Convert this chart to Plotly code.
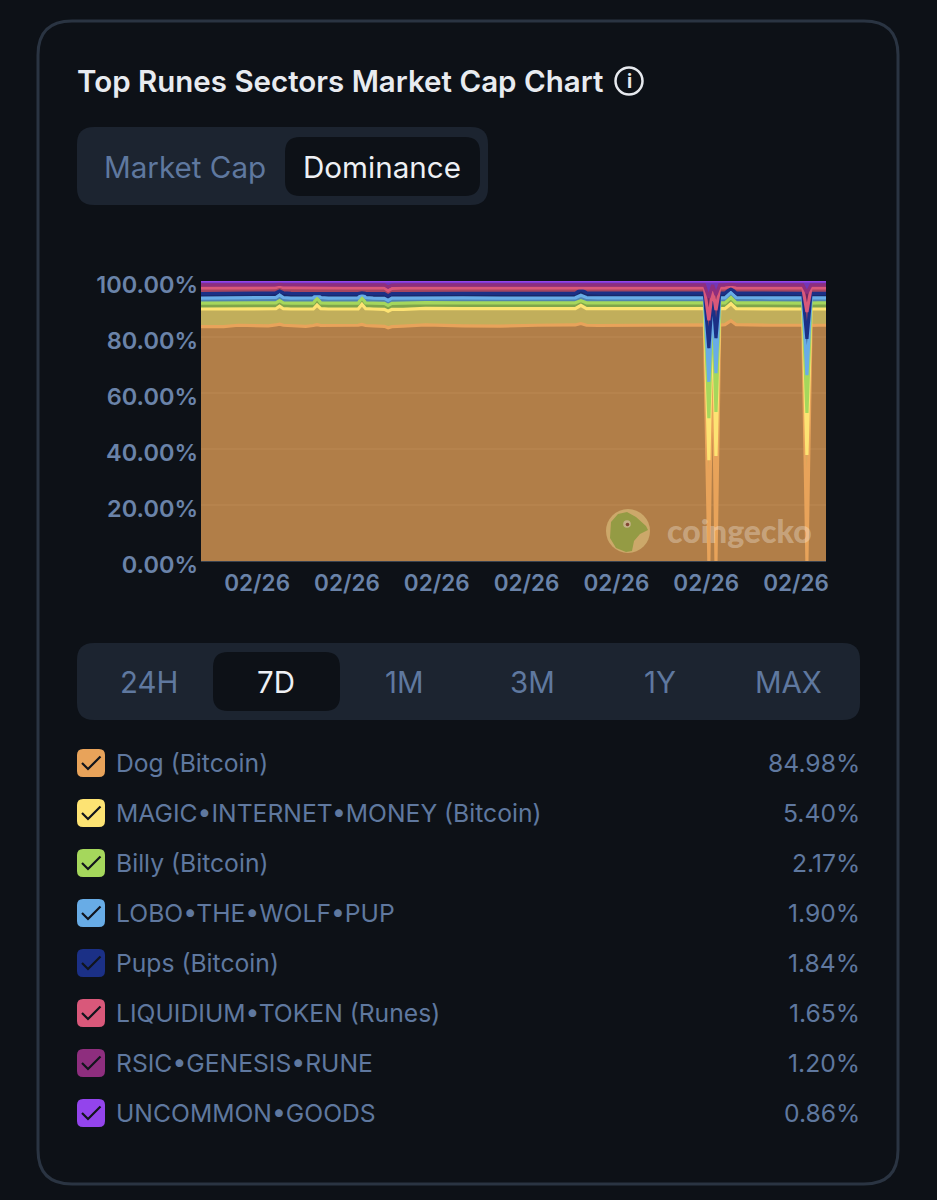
import plotly.graph_objects as go

W = 937
H = 1200
BG = "#0d1117"
PANEL = "#1c2430"
BORDER = "#2a3442"
MUTED = "#5f789f"
AXIS = "#6a83a9"
FONT = "Inter"

# hours since start of the 7D window
hours = [0, 3, 6, 10, 14, 18, 20, 21, 22, 24,
         28, 30, 31, 32, 34, 38, 42, 43, 44, 46,
         49, 50, 51, 54, 60, 70, 80, 90, 98, 100,
         101.5, 103, 106, 115, 125, 133, 134.5, 135.7, 136.7, 137.6,
         138.6, 140, 141.6, 143, 146, 152, 158, 160.8, 161.9, 163,
         165, 167]

dog = [83.7, 83.6, 83.7, 84.2, 84.2, 84.0, 84.3, 84.6, 84.2, 84.0,
       83.8, 84.1, 84.4, 84.1, 84.1, 84.0, 84.2, 84.5, 84.1, 84.0,
       83.8, 83.3, 83.7, 83.9, 84.3, 84.0, 83.9, 84.2, 84.2, 84.3,
       84.8, 84.2, 84.1, 84.2, 84.2, 84.3, 84.3, 0, 84.2, 0,
       84.2, 84.4, 85.8, 84.4, 84.3, 84.2, 84.2, 84.2, 0, 84.1,
       84.2, 84.2]
magic = [6.3, 6.4, 6.3, 5.8, 5.9, 6.0, 5.8, 6.4, 5.9, 6.0,
         6.2, 5.9, 7.0, 6.0, 5.9, 6.0, 5.8, 7.2, 6.0, 6.0,
         6.1, 5.9, 6.2, 6.0, 5.9, 6.1, 6.1, 5.8, 5.9, 5.8,
         6.5, 5.9, 6.0, 5.9, 5.9, 5.8, 5.8, 36, 5.8, 37.5,
         5.9, 5.7, 6.1, 5.7, 5.8, 5.9, 5.8, 5.8, 37.9, 5.9,
         5.8, 5.8]
billy = [2.1, 2.1, 2.1, 2.2, 2.1, 2.1, 2.1, 2.0, 2.1, 2.1,
         2.1, 2.1, 2.5, 2.1, 2.1, 2.1, 2.1, 2.4, 2.1, 2.1,
         2.1, 2.1, 2.1, 2.2, 2.1, 2.1, 2.1, 2.1, 2.1, 2.1,
         1.7, 2.1, 2.1, 2.0, 2.1, 2.1, 2.1, 15, 2.1, 15.7,
         2.1, 2.1, 2.2, 2.1, 2.1, 2.1, 2.1, 2.1, 15, 2.1,
         2.2, 2.2]
lobo = [1.8, 1.8, 1.8, 1.8, 1.8, 1.9, 1.9, 2.0, 1.9, 1.8,
        1.8, 1.9, 1.3, 1.9, 1.8, 1.8, 1.9, 1.3, 1.9, 1.8,
        1.8, 1.8, 1.9, 1.8, 1.7, 1.8, 1.8, 1.8, 1.8, 1.8,
        1.9, 1.9, 1.8, 1.9, 1.8, 1.8, 1.8, 13, 1.8, 13.9,
        1.8, 1.8, 1.9, 1.9, 1.8, 1.8, 1.9, 1.9, 13.5, 1.9,
        1.8, 1.8]
pups = [1.6, 1.6, 1.6, 1.5, 1.6, 1.7, 1.7, 1.4, 1.7, 1.7,
        1.6, 1.5, 0.5, 1.5, 1.6, 1.6, 1.5, 0.4, 1.5, 1.6,
        1.7, 1.6, 1.6, 1.6, 1.6, 1.6, 1.7, 1.7, 1.6, 1.6,
        2.0, 1.7, 1.7, 1.7, 1.7, 1.7, 1.7, 12, 1.7, 12.5,
        1.7, 1.7, 1.3, 1.6, 1.7, 1.6, 1.6, 1.6, 12.9, 1.6,
        1.6, 1.6]
liquidium = [2.0, 2.0, 2.0, 2.0, 1.9, 1.8, 1.8, 1.8, 1.8, 2.0,
             2.0, 2.0, 1.9, 1.9, 2.0, 2.0, 2.0, 1.8, 1.9, 2.0,
             2.0, 1.9, 1.9, 2.0, 1.9, 1.9, 1.9, 1.9, 1.9, 1.9,
             0.8, 1.8, 1.8, 1.8, 1.8, 1.8, 1.8, 10, 1.9, 10,
             1.8, 1.8, 1.0, 1.8, 1.8, 1.9, 1.9, 1.9, 9.6, 1.9,
             1.9, 1.9]
rsic = [1.1, 1.1, 1.1, 1.1, 1.1, 1.1, 1.0, 0.7, 1.0, 1.0,
        1.1, 1.1, 1.0, 1.1, 1.1, 1.1, 1.1, 1.0, 1.1, 1.1,
        1.1, 1.2, 1.1, 1.1, 1.1, 1.1, 1.1, 1.1, 1.1, 1.1,
        0.9, 1.0, 1.1, 1.1, 1.1, 1.1, 1.1, 8, 1.1, 5.4,
        1.1, 1.1, 0.6, 1.1, 1.1, 1.1, 1.1, 1.1, 6.8, 1.1,
        1.1, 1.1]
uncommon = [1.4, 1.4, 1.4, 1.4, 1.4, 1.4, 1.4, 1.1, 1.4, 1.4,
            1.4, 1.4, 1.4, 1.4, 1.4, 1.4, 1.4, 1.4, 1.4, 1.4,
            1.4, 2.1, 1.5, 1.4, 1.4, 1.4, 1.4, 1.4, 1.4, 1.4,
            1.4, 1.4, 1.4, 1.4, 1.4, 1.4, 1.4, 6, 1.4, 5,
            1.4, 1.4, 1.1, 1.4, 1.4, 1.4, 1.4, 1.4, 4.3, 1.4,
            1.4, 1.4]

names = ["Dog (Bitcoin)", "MAGIC•INTERNET•MONEY (Bitcoin)", "Billy (Bitcoin)", "LOBO•THE•WOLF•PUP",
         "Pups (Bitcoin)", "LIQUIDIUM•TOKEN (Runes)", "RSIC•GENESIS•RUNE", "UNCOMMON•GOODS"]
latest = ["84.98%", "5.40%", "2.17%", "1.90%", "1.84%", "1.65%", "1.20%", "0.86%"]
series = [dog, magic, billy, lobo, pups, liquidium, rsic, uncommon]
colors = [(232, 163, 90), (253, 227, 115), (165, 215, 92), (104, 172, 230),
          (27, 48, 134), (217, 88, 122), (142, 46, 126), (147, 68, 236)]

x_ticks = [15, 39, 63, 87, 111, 135, 159]
x_labels = ["02/26"] * 7
y_ticks = [0, 20, 40, 60, 80, 100]
y_labels = ["0.00%", "20.00%", "40.00%", "60.00%", "80.00%", "100.00%"]
range_tabs = ["24H", "7D", "1M", "3M", "1Y", "MAX"]
range_tab_x = [149, 276, 404, 532, 660, 788]


# everything outside the chart is placed in screen pixels
def px(x):
    return x / W


def py(y):
    return 1 - y / H


def rounded(x0, y0, x1, y1, r, fill, line=None, width=0):
    a, b, c, d = px(x0), py(y0), px(x1), py(y1)
    rx, ry = r / W, r / H
    path = (f"M{a + rx},{b} L{c - rx},{b} Q{c},{b} {c},{b - ry} L{c},{d + ry} Q{c},{d} {c - rx},{d} "
            f"L{a + rx},{d} Q{a},{d} {a},{d + ry} L{a},{b - ry} Q{a},{b} {a + rx},{b} Z")
    return dict(type="path", xref="paper", yref="paper", path=path, fillcolor=fill, layer="below",
                line=dict(color=line or "rgba(0,0,0,0)", width=width))


def label(x, y, text, size, color, anchor="left", weight=400, family=FONT):
    return dict(x=px(x), y=py(y), xref="paper", yref="paper", text=text, showarrow=False, xanchor=anchor,
                yanchor="middle", font=dict(family=family, size=size, color=color, weight=weight))


def poly(points, **kw):
    path = "M" + " L".join(f"{px(x)},{py(y)}" for x, y in points)
    return dict(type="path", xref="paper", yref="paper", path=path, **kw)


def circle(cx, cy, r, **kw):
    return dict(type="circle", xref="paper", yref="paper", x0=px(cx - r), x1=px(cx + r),
                y0=py(cy + r), y1=py(cy - r), **kw)


fig = go.Figure()

for name, values, c in zip(names, series, colors):
    fig.add_trace(go.Scatter(
        x=hours, y=values, name=name, mode="lines", stackgroup="one",
        line=dict(color=f"rgb{c}", width=3.2),
        fillcolor=f"rgba({c[0]},{c[1]},{c[2]},0.75)",
    ))

shapes = [
    rounded(38, 21, 898, 1184, 34, BG, BORDER, 3),
    rounded(77, 127, 488, 205, 17, PANEL),
    rounded(285, 137, 480, 196, 15, BG),
    rounded(77, 643, 860, 720, 17, PANEL),
    rounded(213, 652, 340, 711, 15, BG),
    circle(629, 81, 13.5, line=dict(color="#e6e9ee", width=2.5), fillcolor="rgba(0,0,0,0)"),
]

annotations = [
    label(75, 81, "Top Runes Sectors Market Cap Chart", 29.5, "#e8ebf0", weight=600),
    label(629, 81, "i", 19, "#e6e9ee", "center", 700),
    label(184.5, 167, "Market Cap", 29.6, MUTED, "center"),
    label(381.5, 167, "Dominance", 29.6, "#eef0f4", "center"),
]

for tab, x in zip(range_tabs, range_tab_x):
    annotations.append(label(x, 682, tab, 29.4, "#eef0f4" if tab == "7D" else MUTED, "center"))

for i, (name, value, c) in enumerate(zip(names, latest, colors)):
    row = 763 + 50 * i
    shapes.append(rounded(77, row - 14, 105, row + 14, 6, f"rgb{c}"))
    shapes.append(poly([(82, row), (88, row + 6), (100.5, row - 6.5)],
                       line=dict(color="#11151c", width=2.2), layer="below"))
    annotations.append(label(114, row, name, 24.7, MUTED))
    annotations.append(label(861.5, row, value, 24.7, MUTED, "right"))

# coingecko watermark
shapes += [
    circle(628, 531, 22, fillcolor="rgb(204,168,106)", line=dict(width=0)),
    poly([(610, 538), (611, 522), (618, 514), (627, 512), (636, 517), (646, 526), (648, 530), (640, 534),
          (634, 541), (632, 551), (626, 552), (616, 548), (610, 538)],
         fillcolor="rgb(148,155,68)", line=dict(width=0)),
    circle(627, 524, 3.8, fillcolor="rgb(196,178,136)", line=dict(width=0)),
    circle(627.5, 524.5, 1.8, fillcolor="rgb(130,70,50)", line=dict(width=0)),
]
annotations.append(label(665, 530, "coingecko", 32, "rgba(255,255,255,0.3)", weight=900, family="Lato"))

fig.update_layout(
    width=W, height=H,
    margin=dict(l=0, r=0, t=0, b=0, pad=0),
    paper_bgcolor=BG, plot_bgcolor=BG,
    showlegend=False,
    shapes=shapes,
    annotations=annotations,
    font=dict(family=FONT),
    xaxis=dict(
        domain=[px(201), px(826)], range=[0, 167], automargin=False,
        tickmode="array", tickvals=x_ticks, ticktext=x_labels,
        showgrid=False, zeroline=False, showline=True, linecolor="#39424f", linewidth=1,
        ticks="", ticklabelstandoff=2, tickfont=dict(family=FONT, size=22.5, color=AXIS, weight=600),
    ),
    yaxis=dict(
        domain=[py(561), py(281)], range=[0, 100], automargin=False,
        tickmode="array", tickvals=y_ticks, ticktext=y_labels,
        showgrid=True, gridcolor="rgba(255,255,255,0.09)", gridwidth=1.5, zeroline=False, showline=False,
        ticks="", ticklabelshift=4, ticklabelstandoff=2,
        tickfont=dict(family=FONT, size=23.5, color=AXIS, weight=600),
    ),
)

fig.write_html("out.html", config=dict(displayModeBar=False),
               post_script="document.body.style.margin='0';")
